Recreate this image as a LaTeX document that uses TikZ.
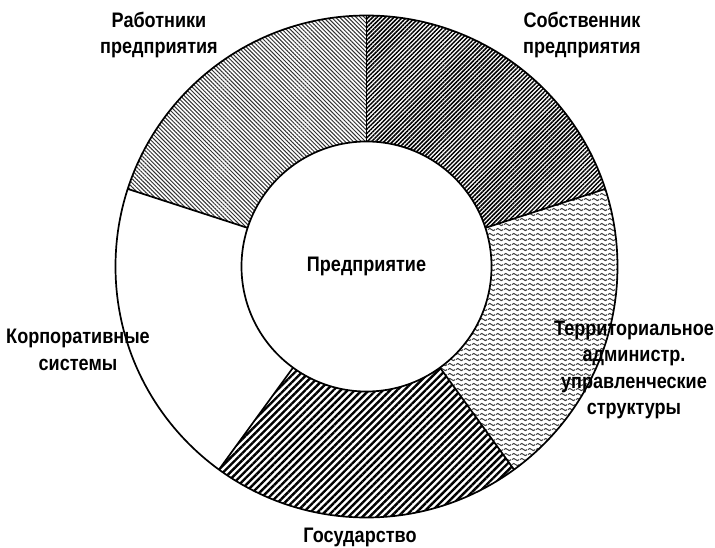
\documentclass[tikz,border=0pt]{standalone}
\usepackage{fontspec}
\setmainfont{Liberation Sans}[FakeStretch=0.86]
\usetikzlibrary{patterns.meta,calc}

% small horizontal waves
\tikzdeclarepattern{
  name=waves,
  type=uncolored,
  bounding box={(0pt,0pt) and (8pt,5.4pt)},
  tile size={(8pt,5.4pt)},
  code={\draw[line width=1.1pt] (0pt,2.7pt) sin (2pt,3.9pt) cos (4pt,2.7pt) sin (6pt,1.5pt) cos (8pt,2.7pt);}
}

\newcommand\ringpart[3]{% start angle, end angle, fill options
  \fill[#3] ($(C)+(#1:\Ri)$) arc[start angle=#1,end angle=#2,radius=\Ri]
    -- ($(C)+(#2:\Ro)$) arc[start angle=#2,end angle=#1,radius=\Ro] -- cycle;}

\begin{document}
\begin{tikzpicture}[x=1pt,y=1pt,
  ring/.style={line width=1.7pt},
  lbl/.style={font=\fontsize{21}{26.5}\selectfont\bfseries, align=center, inner sep=0pt},
  owner/.style={pattern={Lines[angle=45,distance=3pt,line width=1.5pt]}},
  staff/.style={pattern={Lines[angle=-45,distance=2.9pt,line width=1pt]}, pattern color=black!80},
  terr/.style={pattern=waves, pattern color=black!75},
  state/.style={pattern={Lines[angle=45,distance=5pt,line width=2.4pt]}},
]
\useasboundingbox (0,0) rectangle (715,547);
\fill[white] (0,0) rectangle (715,547);
\coordinate (C) at (366.5,280.5);
\def\Ro{251}
\def\Ri{125}

% ring sectors
\ringpart{18}{90}{owner}
\ringpart{90}{162}{staff}
\ringpart{234}{306}{state}
\ringpart{-54}{18}{terr}

% outlines
\draw[ring] (C) circle[radius=\Ro];
\draw[ring, fill=white] (C) circle[radius=\Ri];
\foreach \a in {18,90,162,234,306}
  \draw[ring] ($(C)+(\a:\Ri)$) -- ($(C)+(\a:\Ro)$);

% labels
\node[lbl] (center) at (C) {Предприятие};
\node[lbl] (staffL) at (159,512) {Работники\\предприятия};
\node[lbl] (ownerL) at (582,512) {Собственник\\предприятия};
\node[lbl] (corpL) at (78,197) {Корпоративные\\системы};
\node[lbl] (terrL) at (634,177) {Территориальное\\администр.\\управленческие\\структуры};
\node[lbl] (stateL) at (360,10) {Государство};
\end{tikzpicture}
\end{document}
